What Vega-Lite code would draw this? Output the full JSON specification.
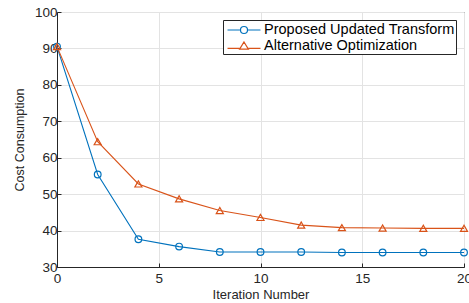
{
  "$schema": "https://vega.github.io/schema/vega-lite/v6.json",
  "width": 407,
  "height": 255,
  "autosize": {"type": "none"},
  "padding": {"left": 57, "top": 12, "right": 5, "bottom": 36},
  "background": "white",
  "config": {
    "font": "Liberation Sans",
    "view": {"stroke": "#262626", "strokeWidth": 1},
    "axis": {
      "labelFont": "Liberation Sans",
      "titleFont": "Liberation Sans",
      "labelFontSize": 13.5,
      "titleFontSize": 13,
      "labelColor": "#262626",
      "titleColor": "#262626",
      "titleFontWeight": "normal",
      "domainColor": "#262626",
      "tickColor": "#262626",
      "gridColor": "#e3e3e3",
      "gridWidth": 1,
      "tickSize": -4,
      "labelPadding": 4,
      "labelFlush": false
    },
    "legend": {
      "orient": "none",
      "legendX": 166,
      "legendY": 8,
      "title": null,
      "fillColor": "white",
      "strokeColor": "#262626",
      "padding": 1,
      "rowPadding": 0,
      "symbolSize": 256,
      "symbolOffset": 11,
      "labelOffset": 11,
      "labelFont": "Liberation Sans",
      "labelFontSize": 14.5,
      "labelColor": "#000000",
      "labelLimit": 400,
      "symbolStrokeWidth": 1.2,
      "symbolFillColor": "transparent",
      "cornerRadius": 0
    }
  },
  "data": {
    "values": [
      {"it": 0, "v": 90.5, "s": "Proposed Updated Transform"},
      {"it": 2, "v": 55.4, "s": "Proposed Updated Transform"},
      {"it": 4, "v": 37.6, "s": "Proposed Updated Transform"},
      {"it": 6, "v": 35.6, "s": "Proposed Updated Transform"},
      {"it": 8, "v": 34.1, "s": "Proposed Updated Transform"},
      {"it": 10, "v": 34.1, "s": "Proposed Updated Transform"},
      {"it": 12, "v": 34.1, "s": "Proposed Updated Transform"},
      {"it": 14, "v": 34.0, "s": "Proposed Updated Transform"},
      {"it": 16, "v": 34.0, "s": "Proposed Updated Transform"},
      {"it": 18, "v": 34.0, "s": "Proposed Updated Transform"},
      {"it": 20, "v": 34.0, "s": "Proposed Updated Transform"},
      {"it": 0, "v": 90.5, "s": "Alternative Optimization"},
      {"it": 2, "v": 64.4, "s": "Alternative Optimization"},
      {"it": 4, "v": 52.8, "s": "Alternative Optimization"},
      {"it": 6, "v": 48.7, "s": "Alternative Optimization"},
      {"it": 8, "v": 45.5, "s": "Alternative Optimization"},
      {"it": 10, "v": 43.6, "s": "Alternative Optimization"},
      {"it": 12, "v": 41.5, "s": "Alternative Optimization"},
      {"it": 14, "v": 40.8, "s": "Alternative Optimization"},
      {"it": 16, "v": 40.7, "s": "Alternative Optimization"},
      {"it": 18, "v": 40.6, "s": "Alternative Optimization"},
      {"it": 20, "v": 40.6, "s": "Alternative Optimization"}
    ]
  },
  "encoding": {
    "x": {
      "field": "it", "type": "quantitative",
      "scale": {"domain": [0, 20], "nice": false},
      "axis": {"values": [0, 5, 10, 15, 20], "title": "Iteration Number", "titlePadding": 4, "labelPadding": 8}
    },
    "y": {
      "field": "v", "type": "quantitative",
      "scale": {"domain": [30, 100], "nice": false, "zero": false},
      "axis": {"values": [30, 40, 50, 60, 70, 80, 90, 100], "title": "Cost Consumption", "titleFontSize": 12.5, "titlePadding": 8}
    },
    "color": {
      "field": "s", "type": "nominal",
      "scale": {"domain": ["Proposed Updated Transform", "Alternative Optimization"], "range": ["#0072BD", "#D95319"]},
      "legend": {
        "encode": {
          "symbols": {
            "update": {
              "shape": {"signal": "datum.value === 'Proposed Updated Transform' ? 'M-2.06,0H-0.44M0.44,0H2.06M0.44,0A0.44,0.44 0 1,1 -0.44,0A0.44,0.44 0 1,1 0.44,0Z' : 'M-2.06,0.3H-0.55M0.55,0.3H2.06M0,-0.5L0.55,0.4L-0.55,0.4Z'"},
              "fill": {"value": "transparent"}
            }
          }
        }
      }
    }
  },
  "layer": [
    {
      "mark": {"type": "line", "strokeWidth": 1.1}
    },
    {
      "transform": [{"filter": "datum.s === 'Proposed Updated Transform'"}],
      "mark": {"type": "point", "shape": "circle", "filled": false, "strokeWidth": 1.2, "size": 45, "opacity": 1}
    },
    {
      "transform": [{"filter": "datum.s === 'Alternative Optimization'"}],
      "mark": {"type": "point", "shape": "triangle-up", "filled": false, "strokeWidth": 1.2, "size": 50, "opacity": 1}
    }
  ]
}
